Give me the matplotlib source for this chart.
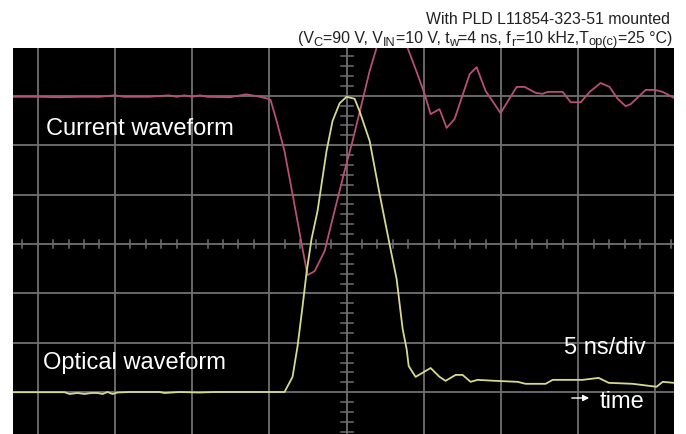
import matplotlib
matplotlib.use("Agg")
from matplotlib import pyplot as plt
import numpy as np

plt.rcParams['font.family'] = ['Liberation Sans', 'DejaVu Sans']

# time in ns (5 ns/div, trigger at 0), amplitude in divisions
cur_t = [-21.63, -19.9, -18.6, -17.3, -16.0, -15.0, -14.4, -12.8, -11.5, -11.0,
         -10.5, -10.0, -9.5, -9.0, -7.6, -6.5, -5.76, -5.12, -4.92, -4.53,
         -4.02, -3.50, -2.91, -2.53, -2.07, -1.42, -0.78, -0.13, 0.39, 0.97,
         1.49, 1.94, 2.91, 3.95, 4.47, 5.05, 5.44, 6.02, 6.48, 6.99,
         7.97, 8.42, 9.00, 9.97, 11.01, 11.53, 12.24, 12.69, 13.02, 13.99,
         14.51, 15.16, 15.74, 16.45, 17.03, 17.55, 18.07, 18.39, 19.37, 19.95,
         20.47, 21.18]
cur_v = [2.98, 2.98, 2.97, 2.98, 2.98, 3.01, 2.98, 2.98, 3.01, 2.98,
         3.01, 2.98, 3.01, 2.98, 2.97, 3.03, 2.99, 2.945, 2.915, 2.49,
         1.88, 1.01, 0.0, -0.63, -0.55, -0.14, 0.67, 1.48, 2.09, 2.83,
         3.50, 3.97, 4.45, 3.97, 3.54, 3.04, 2.63, 2.73, 2.35, 2.53,
         3.44, 3.58, 3.10, 2.65, 3.18, 3.18, 3.06, 3.04, 3.08, 3.08,
         2.87, 2.87, 3.08, 3.26, 3.18, 2.94, 2.79, 2.83, 3.12, 3.12,
         3.08, 2.96]

opt_t = [-21.63, -18.26, -17.94, -17.42, -16.97, -16.52, -16.13, -15.80, -15.48, -15.16,
         -14.83, -14.05, -12.11, -11.79, -10.82, -9.52, -8.55, -6.61, -4.02, -3.50,
         -3.17, -2.85, -2.59, -2.27, -1.88, -1.30, -0.91, -0.45, 0.0, 0.52,
         0.84, 1.49, 2.14, 2.78, 3.24, 3.63, 3.89, 4.02, 4.47, 5.44,
         6.02, 6.41, 7.06, 7.51, 8.03, 8.48, 9.65, 11.08, 11.59, 12.89,
         13.34, 15.28, 16.32, 16.97, 18.52, 20.07, 20.47, 21.18]
opt_v = [-3.0, -3.0, -3.036, -3.016, -3.036, -3.016, -3.016, -3.036, -2.996, -3.036,
         -3.006, -2.996, -2.996, -3.016, -2.996, -3.006, -2.996, -2.996, -2.996, -2.69,
         -2.06, -1.26, -0.57, 0.10, 0.67, 1.88, 2.49, 2.85, 2.98, 2.94,
         2.69, 2.09, 1.01, 0.0, -0.71, -1.72, -2.13, -2.47, -2.69, -2.51,
         -2.69, -2.77, -2.65, -2.65, -2.79, -2.75, -2.77, -2.79, -2.83, -2.83,
         -2.75, -2.75, -2.71, -2.81, -2.83, -2.89, -2.79, -2.81]

# header line 2 pieces: (text, subscript?)
cond = [('(V', 0), ('C', 1), ('=90 V, V', 0), ('IN', 1), ('=10 V, t', 0), ('w', 1),
        ('=4 ns, f', 0), ('r', 1), ('=10 kHz,T', 0), ('op(c)', 1), ('=25 °C)', 0)]

W, H = 686, 435
fig = plt.figure(figsize=(W / 100, H / 100), dpi=100)
fig.patch.set_facecolor('white')
ax = fig.add_axes([13 / W, 0, 661 / W, 386 / H])
ax.set_facecolor('black')
ax.set_xlim(-21.6, 21.2)
ax.set_ylim(-3.846, 3.968)
ax.set_xticks([])
ax.set_yticks([])
for s in ax.spines.values():
    s.set_visible(False)

gc = '#707070'
for x in range(-20, 21, 5):
    ax.axvline(x, color=gc, lw=1.3, zorder=1)
for y in range(-3, 4):
    ax.axhline(y, color=gc, lw=1.3, zorder=1)
# minor ticks on centre lines
for x in np.arange(-21, 22, 1.0):
    if x % 5 != 0:
        ax.plot([x, x], [-0.08, 0.08], color=gc, lw=1.1, zorder=1)
for y in np.arange(-3.8, 4.0, 0.2):
    if abs(y - round(y)) > 0.01:
        ax.plot([-0.39, 0.39], [y, y], color=gc, lw=1.1, zorder=1)

ax.plot(cur_t, cur_v, color='#b8506f', lw=1.3, zorder=3)
ax.plot(opt_t, opt_v, color='#d6da8e', lw=1.3, zorder=3)

def px(x, y):
    return x / W, 1 - y / H

fs = 17
fig.text(*px(46, 135), 'Current waveform', color='white', fontsize=fs, va='baseline')
fig.text(*px(43, 369), 'Optical waveform', color='white', fontsize=fs, va='baseline')
fig.text(*px(564, 354), '5 ns/div', color='white', fontsize=fs, va='baseline')
fig.text(*px(600, 408), 'time', color='white', fontsize=fs, va='baseline')
ax.annotate('', xy=px(592, 399), xytext=px(569, 399), xycoords='figure fraction',
            textcoords='figure fraction',
            arrowprops=dict(arrowstyle='-|>', color='white', lw=1, mutation_scale=9))

tc = '#222222'
fig.text(*px(670, 24), 'With PLD L11854-323-51 mounted', color=tc, fontsize=11.4,
         ha='right', va='baseline')

# second header line, laid out piece by piece so the subscripts stay large
r = fig.canvas.get_renderer()
parts = []
for txt, sub in cond:
    t = fig.text(0, 0, txt, color=tc, fontsize=9.3 if sub else 11.4, va='baseline')
    parts.append((t, sub, t.get_window_extent(r).width))
total = sum(p[2] for p in parts)
x0 = 672 - total
for t, sub, w in parts:
    t.set_position(px(x0, 43 + (2.5 if sub else 0)))
    x0 += w

fig.savefig('out.png', dpi=100)
